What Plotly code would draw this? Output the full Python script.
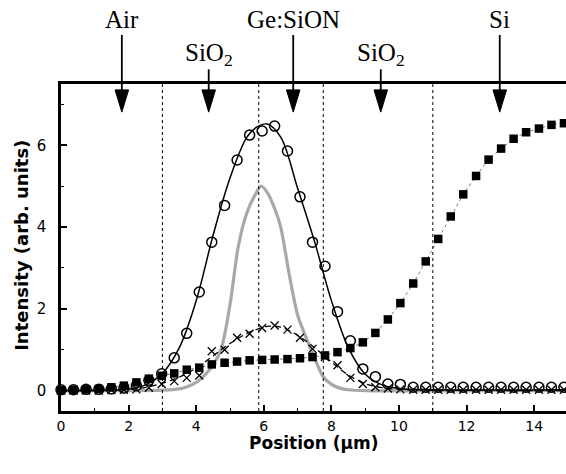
import plotly.graph_objects as go

# ---------------- data ----------------
x_pts = [0.00, 0.37, 0.74, 1.12, 1.49, 1.86, 2.23, 2.60, 2.98, 3.35, 3.72, 4.09, 4.46, 4.84,
         5.21, 5.58, 5.95, 6.32, 6.70, 7.07, 7.44, 7.81, 8.18, 8.56, 8.93, 9.30, 9.67, 10.04,
         10.42, 10.79, 11.16, 11.53, 11.90, 12.28, 12.65, 13.02, 13.39, 13.76, 14.14, 14.51, 14.88]

circles = [0.02, 0.02, 0.03, 0.03, 0.04, 0.06, 0.12, 0.25, 0.41, 0.80, 1.40, 2.41, 3.63, 4.53,
           5.64, 6.25, 6.35, 6.47, 5.86, 4.74, 3.63, 3.04, 1.93, 1.22, 0.53, 0.34, 0.16, 0.15,
           0.08, 0.08, 0.08, 0.08, 0.08, 0.08, 0.08, 0.08, 0.08, 0.08, 0.08, 0.08, 0.08]

squares = [0.01, 0.02, 0.03, 0.04, 0.08, 0.12, 0.20, 0.29, 0.36, 0.42, 0.51, 0.56, 0.64, 0.68,
           0.71, 0.74, 0.75, 0.76, 0.77, 0.79, 0.82, 0.86, 0.94, 1.04, 1.18, 1.41, 1.74, 2.14,
           2.62, 3.16, 3.71, 4.26, 4.80, 5.25, 5.65, 5.92, 6.16, 6.32, 6.41, 6.50, 6.54]

crosses = [0.00, 0.00, 0.00, 0.00, 0.01, 0.02, 0.03, 0.07, 0.16, 0.23, 0.31, 0.37, 0.96, 1.00,
           1.29, 1.39, 1.53, 1.59, 1.49, 1.29, 1.02, 0.82, 0.62, 0.31, 0.16, 0.08, 0.05, 0.03,
           0.02, 0.02, 0.02, 0.02, 0.02, 0.02, 0.02, 0.02, 0.02, 0.02, 0.02, 0.02, 0.02]

fit_x = [0.0, 1.0, 2.0, 2.5, 3.0, 3.5, 4.0, 4.5, 5.0, 5.5, 5.8, 6.1, 6.5, 7.0, 7.5, 8.0,
         8.5, 9.0, 9.5, 10.0, 11.0, 15.0]
fit_solid = [0.0, 0.0, 0.04, 0.14, 0.42, 1.05, 2.2, 3.8, 5.2, 6.2, 6.45, 6.52, 6.2, 4.95,
             3.65, 2.2, 1.05, 0.4, 0.14, 0.05, 0.02, 0.02]
fit_dash = [0.0, 0.0, 0.03, 0.08, 0.18, 0.33, 0.55, 0.85, 1.15, 1.40, 1.50, 1.57, 1.55,
            1.35, 1.05, 0.70, 0.38, 0.17, 0.07, 0.03, 0.01, 0.0]

grey_x = [0.0, 2.0, 3.0, 3.5, 3.75, 4.0, 4.25, 4.5, 4.75, 5.0, 5.25, 5.5, 5.75, 5.92, 6.1,
          6.3, 6.5, 6.75, 7.0, 7.25, 7.5, 7.75, 8.0, 8.25, 8.5, 9.0, 15.0]
grey_y = [0.0, 0.0, 0.01, 0.04, 0.1, 0.2, 0.38, 0.62, 1.05, 2.1, 3.55, 4.35, 4.8, 5.0, 4.85,
          4.5, 4.0, 2.85, 1.85, 1.3, 0.8, 0.35, 0.15, 0.06, 0.02, 0.0, 0.0]

boundaries = [3.0, 5.85, 7.76, 11.0]

layer_names = ["Air", "SiO<sub>2</sub>", "Ge:SiON", "SiO<sub>2</sub>", "Si"]
layer_pos = [1.8, 4.37, 6.87, 9.46, 12.98]
layer_high = [True, False, True, False, True]

x_ticks = [0, 2, 4, 6, 8, 10, 12, 14]
y_ticks = [0, 2, 4, 6]

x_title = "Position (µm)"
y_title = "Intensity (arb. units)"

# ---------------- figure ----------------
fig = go.Figure()

fig.add_trace(go.Scatter(x=grey_x, y=grey_y, mode="lines",
                         line=dict(color="#a8a8a8", width=3.2, shape="spline", smoothing=0.8),
                         hoverinfo="skip", showlegend=False))
fig.add_trace(go.Scatter(x=fit_x, y=fit_dash, mode="lines",
                         line=dict(color="black", width=1.3, dash="6px,4px", shape="spline"),
                         showlegend=False))
fig.add_trace(go.Scatter(x=fit_x, y=fit_solid, mode="lines",
                         line=dict(color="black", width=1.5, shape="spline"),
                         showlegend=False))
fig.add_trace(go.Scatter(x=x_pts, y=squares, mode="lines+markers",
                         line=dict(color="#777777", width=1, dash="dot"),
                         marker=dict(symbol="square", size=8.5, color="black"),
                         showlegend=False, cliponaxis=False))
fig.add_trace(go.Scatter(x=x_pts, y=crosses, mode="markers",
                         marker=dict(symbol="x-thin", size=8, color="black",
                                     line=dict(color="black", width=1.3)),
                         showlegend=False, cliponaxis=False))
fig.add_trace(go.Scatter(x=x_pts, y=circles, mode="markers",
                         marker=dict(symbol="circle-open", size=10, color="black",
                                     line=dict(color="black", width=1.5)),
                         showlegend=False, cliponaxis=False))

shapes = []
for b in boundaries:
    shapes.append(dict(type="line", xref="x", yref="paper", x0=b, x1=b, y0=0, y1=1,
                       line=dict(color="black", width=1, dash="dot")))

annotations = []
for name, xp, high in zip(layer_names, layer_pos, layer_high):
    y_top = 1.150 if high else 1.045
    y_text = 1.150 if high else 1.036
    shapes.append(dict(type="line", xref="x", yref="paper", x0=xp, x1=xp, y0=y_top, y1=0.975,
                       line=dict(color="black", width=1.8)))
    hw = 0.2
    shapes.append(dict(type="path", xref="x", yref="paper",
                       path=f"M {xp-hw},0.982 L {xp+hw},0.982 L {xp},0.914 Z",
                       fillcolor="black", line=dict(color="black", width=1)))
    annotations.append(dict(x=xp, y=y_text, xref="x", yref="paper", text=name, showarrow=False,
                            xanchor="center", yanchor="bottom",
                            font=dict(family="Liberation Serif", size=25, color="black")))

annotations.append(dict(x=0.5, y=-0.097, xref="paper", yref="paper", text=f"<b>{x_title}</b>",
                        showarrow=False, xanchor="center", yanchor="middle",
                        font=dict(family="DejaVu Sans", size=17, color="black")))
annotations.append(dict(x=0, y=0.505, xref="paper", yref="paper", text=f"<b>{y_title}</b>",
                        showarrow=False, xanchor="center", yanchor="middle", xshift=-39,
                        textangle=-90,
                        font=dict(family="DejaVu Sans", size=18, color="black")))

fig.update_layout(
    width=566, height=474,
    margin=dict(l=61, r=0, t=84, b=63),
    paper_bgcolor="white", plot_bgcolor="white",
    shapes=shapes, annotations=annotations,
    font=dict(family="DejaVu Sans", size=14, color="black"),
    xaxis=dict(range=[0, 14.94], tickvals=x_ticks, ticks="inside", ticklen=6, tickwidth=1.5,
               tickcolor="black", showline=True, linecolor="black", linewidth=2.5, mirror=True,
               showgrid=False, zeroline=False, automargin=False,
               minor=dict(dtick=1, ticks="inside", ticklen=3, tickwidth=1.2, tickcolor="black"),
               tickfont=dict(size=14)),
    yaxis=dict(range=[-0.5, 7.5], tickvals=y_ticks, ticks="inside", ticklen=6, tickwidth=1.5,
               tickcolor="black", showline=True, linecolor="black", linewidth=2.5,
               showgrid=False, zeroline=False, automargin=False, ticklabelstandoff=9,
               minor=dict(dtick=1, ticks="inside", ticklen=3, tickwidth=1.2, tickcolor="black"),
               tickfont=dict(size=15)),
)

fig.write_html("out.html", config={"displayModeBar": False},
               post_script="document.body.style.margin='0px';document.body.style.overflow='hidden';")
